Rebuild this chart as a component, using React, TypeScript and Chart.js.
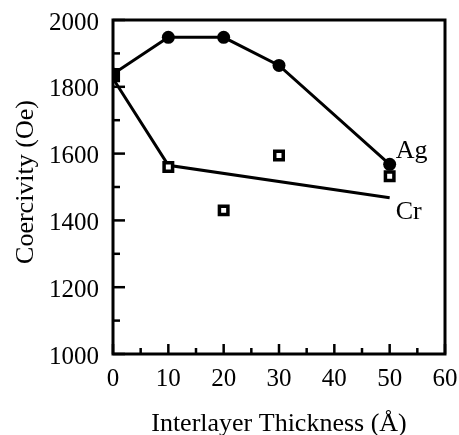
import React, { useEffect, useRef } from "react";
import { Chart, registerables } from "chart.js";

Chart.register(...registerables);

const thickness = [0, 10, 20, 30, 50];
const agCoercivity = [1838, 1948, 1948, 1864, 1568];
const crCoercivity = [1835, 1560, 1430, 1594, 1532];
const crFitThickness = [0, 10, 50];
const crFitCoercivity = [1825, 1565, 1468];
const xTickLabels = [0, 10, 20, 30, 40, 50, 60];
const yTickLabels = [1000, 1200, 1400, 1600, 1800, 2000];
const xTitle = "Interlayer Thickness (Å)";
const yTitle = "Coercivity (Oe)";
const seriesLabels = ["Ag", "Cr"];

const FONT = "'Liberation Serif', 'DejaVu Serif', serif";

const framePlugin = {
  id: "frame",
  afterDraw(chart: any) {
    const { ctx, chartArea: a, scales } = chart;
    const xs = scales.x;
    const ys = scales.y;
    ctx.save();
    ctx.strokeStyle = "#000";
    ctx.lineWidth = 3;
    ctx.strokeRect(a.left, a.top, a.right - a.left, a.bottom - a.top);
    ctx.lineWidth = 2.5;
    for (let v = 0; v <= 60; v += 5) {
      const px = xs.getPixelForValue(v);
      const len = v % 10 === 0 ? 10 : 6;
      ctx.beginPath();
      ctx.moveTo(px, a.bottom);
      ctx.lineTo(px, a.bottom - len);
      ctx.stroke();
    }
    for (let v = 1000; v <= 2000; v += 100) {
      const py = ys.getPixelForValue(v);
      const len = v % 200 === 0 ? 12 : 7;
      ctx.beginPath();
      ctx.moveTo(a.left, py);
      ctx.lineTo(a.left + len, py);
      ctx.stroke();
    }
    ctx.fillStyle = "#000";
    ctx.font = `25px ${FONT}`;
    ctx.textBaseline = "middle";
    ctx.textAlign = "right";
    for (const v of yTickLabels) {
      ctx.fillText(String(v), a.left - 14, ys.getPixelForValue(v) + 3);
    }
    ctx.textAlign = "center";
    for (const v of xTickLabels) {
      ctx.fillText(String(v), xs.getPixelForValue(v), a.bottom + 25);
    }
    ctx.font = `26px ${FONT}`;
    ctx.textAlign = "left";
    ctx.textBaseline = "alphabetic";
    const agX = xs.getPixelForValue(thickness[thickness.length - 1]);
    const agY = ys.getPixelForValue(agCoercivity[agCoercivity.length - 1]);
    ctx.fillText(seriesLabels[0], agX + 6, agY - 6);
    const crX = xs.getPixelForValue(crFitThickness[crFitThickness.length - 1]);
    const crY = ys.getPixelForValue(crFitCoercivity[crFitCoercivity.length - 1]);
    ctx.fillText(seriesLabels[1], crX + 6, crY + 21);
    ctx.textAlign = "center";
    ctx.fillText(xTitle, (a.left + a.right) / 2, a.bottom + 77);
    ctx.save();
    ctx.translate(33, (a.top + a.bottom) / 2 - 5);
    ctx.rotate(-Math.PI / 2);
    ctx.fillText(yTitle, 0, 0);
    ctx.restore();
    ctx.restore();
  },
};

function App() {
  const ref = useRef<HTMLCanvasElement | null>(null);
  useEffect(() => {
    if (!ref.current) return;
    const chart = new Chart(ref.current, {
      type: "line",
      data: {
        datasets: [
          {
            label: "Cr",
            data: thickness.map((x, i) => ({ x, y: crCoercivity[i] })),
            showLine: false,
            borderColor: "#000",
            pointBackgroundColor: (c: any) => (c.dataIndex === 0 ? "#000" : "#fff"),
            pointStyle: "rect",
            pointRadius: (c: any) => (c.dataIndex === 0 ? 7.5 : 6),
            pointBorderWidth: 3.5,
            order: 0,
          },
          {
            label: "Ag",
            data: thickness.map((x, i) => ({ x, y: agCoercivity[i] })),
            borderColor: "#000",
            backgroundColor: "#000",
            borderWidth: 3,
            pointStyle: "circle",
            pointRadius: 6.5,
            pointBorderWidth: 0,
            order: 1,
          },
          {
            label: "Cr fit",
            data: crFitThickness.map((x, i) => ({ x, y: crFitCoercivity[i] })),
            borderColor: "#000",
            borderWidth: 3,
            pointRadius: 0,
            order: 2,
          },
        ],
      },
      options: {
        responsive: false,
        animation: false,
        layout: { padding: { left: 0, top: 20, right: 14, bottom: 0 } },
        plugins: { legend: { display: false }, tooltip: { enabled: false } },
        scales: {
          x: {
            type: "linear",
            min: 0,
            max: 60,
            grid: { display: false, drawTicks: false },
            border: { display: false },
            ticks: { display: false, stepSize: 10 },
            afterFit(scale: any) {
              scale.height = 81;
            },
          },
          y: {
            min: 1000,
            max: 2000,
            grid: { display: false, drawTicks: false },
            border: { display: false },
            ticks: { display: false, stepSize: 200 },
            afterFit(scale: any) {
              scale.width = 113;
            },
          },
        },
      },
      plugins: [framePlugin],
    });
    return () => chart.destroy();
  }, []);
  return (
    <div style={{ position: "fixed", left: 0, top: 0, width: 459, height: 435, background: "#fff" }}>
      <canvas ref={ref} width={459} height={435} style={{ width: 459, height: 435, display: "block" }} />
    </div>
  );
}

export default App;
